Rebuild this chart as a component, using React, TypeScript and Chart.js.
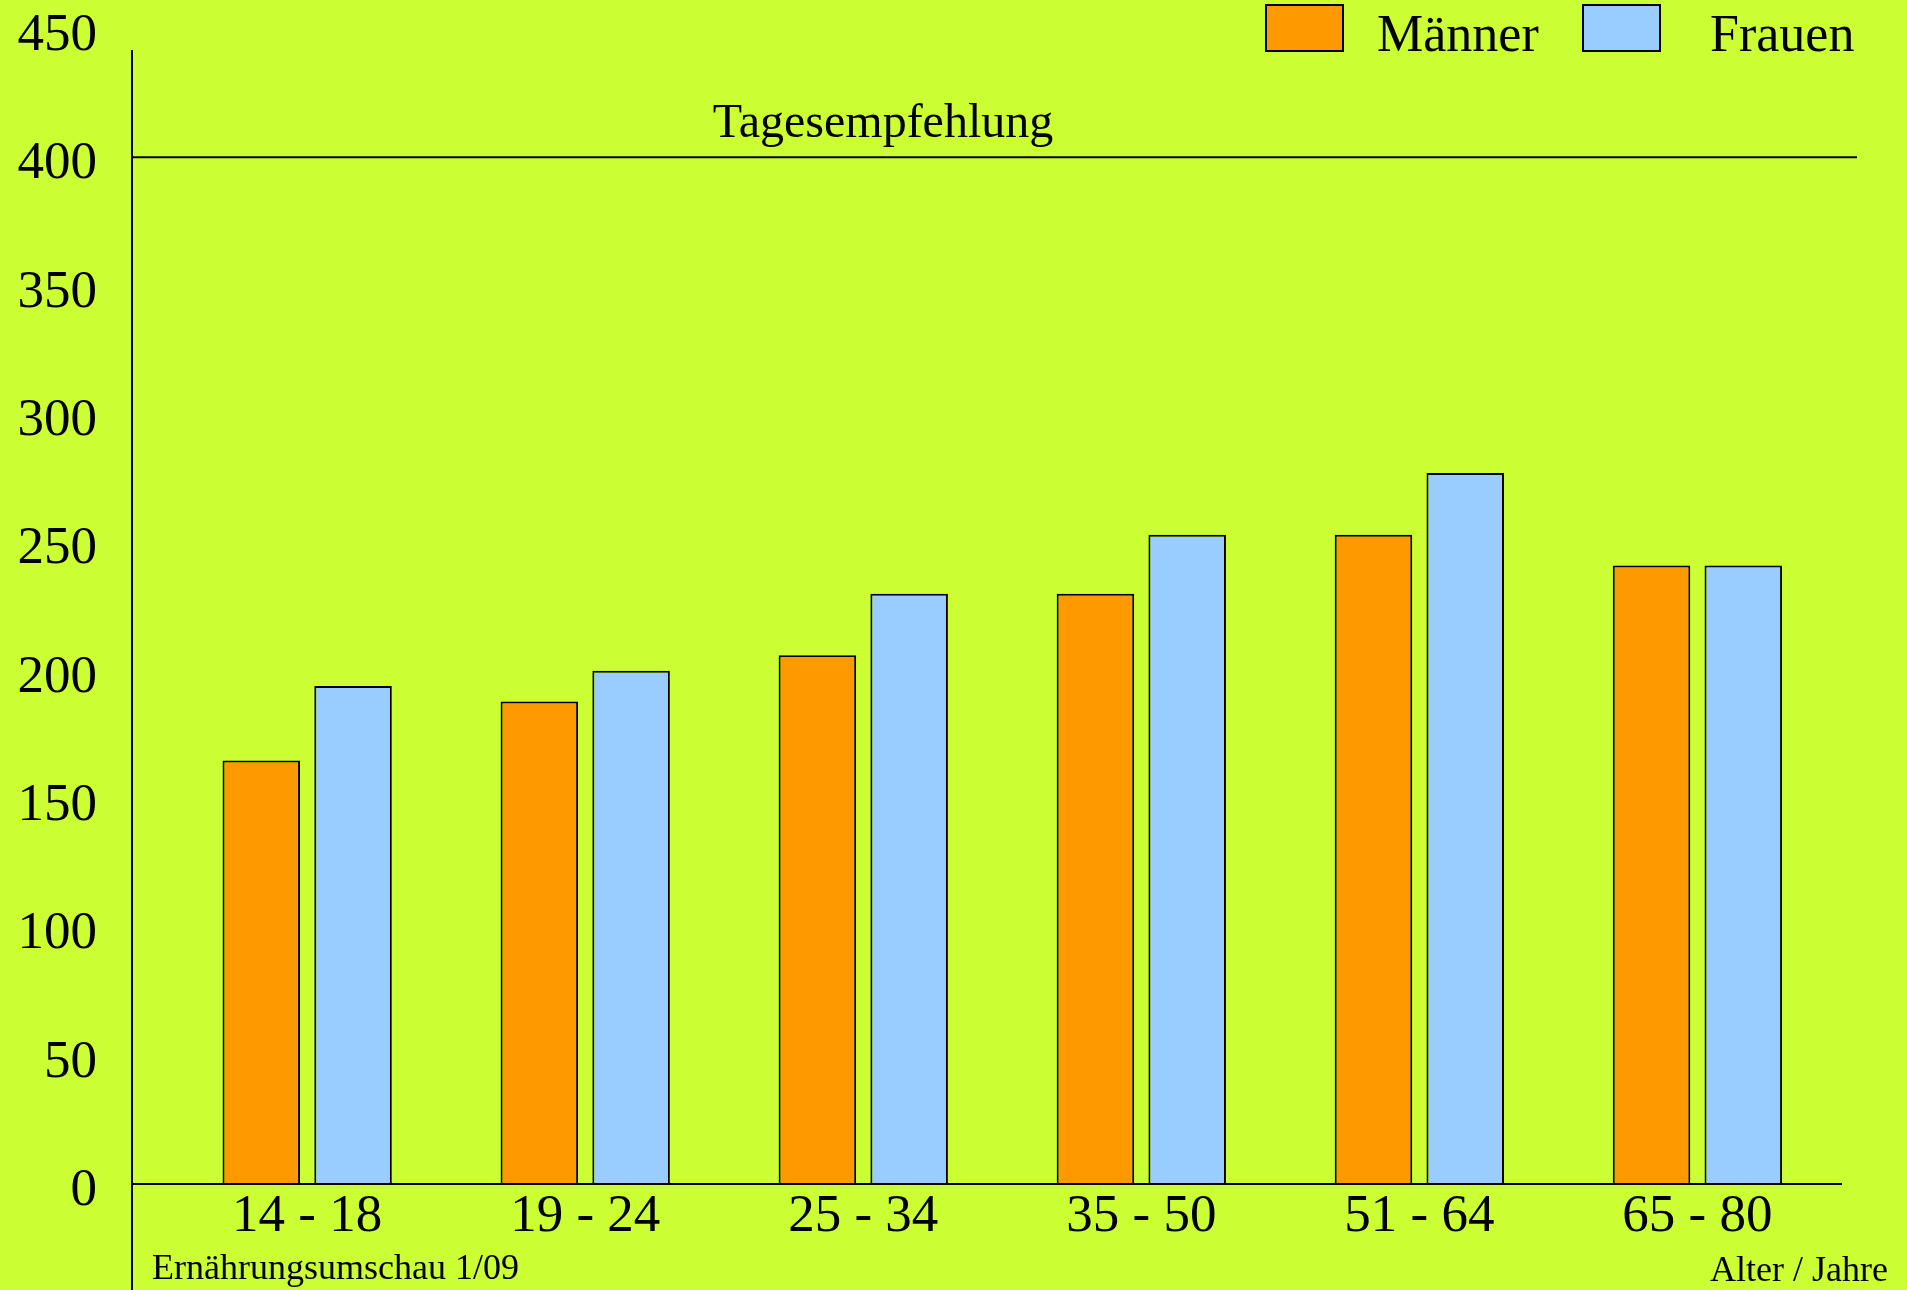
import React, { useEffect, useRef } from "react";
import { Chart, registerables } from "chart.js";

Chart.register(...registerables);

const categories = ["14 - 18", "19 - 24", "25 - 34", "35 - 50", "51 - 64", "65 - 80"];
const maenner = [165, 188, 206, 230, 253, 241];
const frauen = [194, 200, 230, 253, 277, 241];
const seriesLabels = ["Männer", "Frauen"];
const yMin = 0;
const yMax = 450;
const yStep = 50;
const recommendation = 400;
const recommendationLabel = "Tagesempfehlung";
const sourceLabel = "Ernährungsumschau 1/09";
const axisLabel = "Alter / Jahre";

const BG = "#CCFF33";
const ORANGE = "#FF9900";
const BLUE = "#99CCFF";
const FONT = '"Liberation Serif", "Times New Roman", serif';

const decorPlugin = {
  id: "decor",
  beforeDraw(chart: any) {
    const { ctx, width, height } = chart;
    ctx.save();
    ctx.fillStyle = BG;
    ctx.fillRect(0, 0, width, height);
    ctx.restore();
  },
  afterDatasetsDraw(chart: any) {
    const { ctx, chartArea, height } = chart;
    const y = chart.scales.y;
    ctx.save();
    ctx.strokeStyle = "#000";
    ctx.lineWidth = 2;
    // y axis line
    ctx.beginPath();
    ctx.moveTo(chartArea.left, chartArea.top + 21);
    ctx.lineTo(chartArea.left, height);
    ctx.stroke();
    // zero line
    const y0 = y.getPixelForValue(0);
    ctx.beginPath();
    ctx.moveTo(chartArea.left, y0);
    ctx.lineTo(chartArea.right, y0);
    ctx.stroke();
    // recommendation line
    const yr = y.getPixelForValue(recommendation);
    ctx.beginPath();
    ctx.moveTo(chartArea.left, yr);
    ctx.lineTo(chartArea.right + 15, yr);
    ctx.stroke();

    ctx.fillStyle = "#000";
    ctx.textBaseline = "alphabetic";
    ctx.font = `48px ${FONT}`;
    ctx.textAlign = "center";
    ctx.fillText(recommendationLabel, 883, yr - 20);

    ctx.font = `36px ${FONT}`;
    ctx.textAlign = "left";
    ctx.fillText(sourceLabel, 152, 1279);
    ctx.textAlign = "right";
    ctx.fillText(axisLabel, 1888, 1281);

    // legend
    const boxX = [1266, 1583];
    const textOff = [111, 127];
    ctx.font = `52px ${FONT}`;
    ctx.textAlign = "left";
    chart.data.datasets.forEach((ds: any, i: number) => {
      ctx.fillStyle = ds.backgroundColor;
      ctx.fillRect(boxX[i], 5, 77, 46);
      ctx.lineWidth = 2;
      ctx.strokeStyle = "#000";
      ctx.strokeRect(boxX[i], 5, 77, 46);
      ctx.fillStyle = "#000";
      ctx.fillText(ds.label, boxX[i] + textOff[i], 51);
    });
    ctx.restore();
  },
};

export default function App() {
  const ref = useRef<HTMLCanvasElement>(null);
  useEffect(() => {
    document.body.style.margin = "0";
    document.body.style.background = BG;
    const chart = new Chart(ref.current as HTMLCanvasElement, {
      type: "bar",
      data: {
        datasets: [
          {
            label: seriesLabels[0],
            data: maenner.map((v, i) => ({ x: i, y: v })),
            backgroundColor: ORANGE,
            borderColor: "#000",
            borderWidth: 2,
          },
          {
            label: seriesLabels[1],
            data: frauen.map((v, i) => ({ x: i, y: v })),
            backgroundColor: BLUE,
            borderColor: "#000",
            borderWidth: 2,
          },
        ],
      },
      options: {
        responsive: false,
        animation: false,
        categoryPercentage: 0.66,
        barPercentage: 0.845,
        layout: { padding: { top: 29, right: 65, left: 0, bottom: 0 } },
        plugins: { legend: { display: false }, tooltip: { enabled: false } },
        scales: {
          x: {
            type: "linear",
            min: -0.63,
            max: 5.52,
            offset: false,
            grid: { display: false, drawTicks: false },
            border: { display: false },
            afterBuildTicks: (scale: any) => {
              scale.ticks = categories.map((_, i) => ({ value: i }));
            },
            afterFit: (scale: any) => {
              scale.height = 106;
              scale.paddingLeft = 0;
              scale.paddingRight = 0;
            },
            ticks: {
              autoSkip: false,
              maxRotation: 0,
              padding: 7,
              color: "#000",
              font: { family: FONT, size: 53, lineHeight: 1 },
              callback: (v: any) => categories[v] ?? "",
            },
          },
          y: {
            min: yMin,
            max: yMax,
            grid: { display: false, drawTicks: false },
            border: { display: false },
            afterFit: (scale: any) => {
              scale.width = 132;
              scale.paddingTop = 0;
              scale.paddingBottom = 0;
            },
            ticks: {
              stepSize: yStep,
              padding: 35,
              labelOffset: 7,
              color: "#000",
              font: { family: FONT, size: 53, lineHeight: 1 },
            },
          },
        },
      } as any,
      plugins: [decorPlugin],
    });
    return () => chart.destroy();
  }, []);
  return (
    <div style={{ width: 1907, height: 1290, background: BG }}>
      <canvas ref={ref} width={1907} height={1290} style={{ display: "block" }} />
    </div>
  );
}
